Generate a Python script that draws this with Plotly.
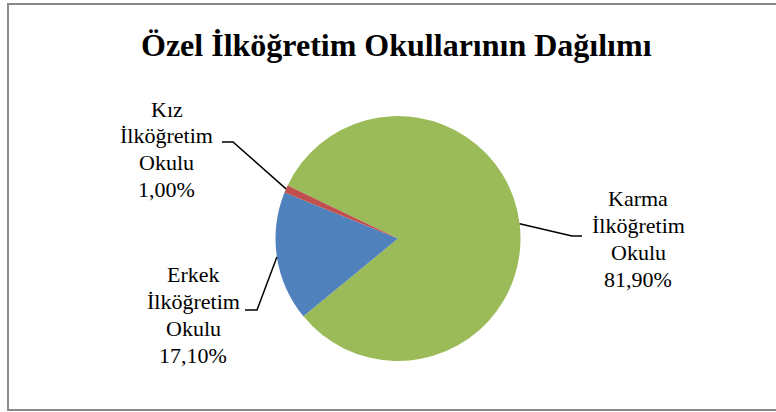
import math
import plotly.graph_objects as go

# ---- data ----
categories = ["Karma İlköğretim Okulu", "Erkek İlköğretim Okulu", "Kız İlköğretim Okulu"]
label_words = [["Karma", "İlköğretim", "Okulu"],
               ["Erkek", "İlköğretim", "Okulu"],
               ["Kız", "İlköğretim", "Okulu"]]
values = [81.9, 17.1, 1.0]
colors = ["#9BBB59", "#4F81BD", "#C0504D"]
title_text = "<b>Özel İlköğretim Okullarının Dağılımı</b>"

# ---- layout geometry (pixels) ----
W, H = 776, 412
cx, cy, r = 398.0, 238.5, 122.5
rotation = -64.3
font_family = "Liberation Serif, Times New Roman, serif"
label_size = 22
line_pitch = 26.8

# label block: centre x and first-line centre y (pixels)
label_pos = [(638.0, 198.7), (193.0, 274.7), (166.5, 109.0)]
elbows = [((572, 236), (582, 236)), ((257, 310), (245, 310)), ((233, 142), (222, 142))]


def px(x):
    return x / W


def py(y):
    return 1 - y / H


fig = go.Figure(go.Pie(
    labels=categories,
    values=values,
    sort=False,
    direction="clockwise",
    rotation=rotation,
    marker=dict(colors=colors, line=dict(width=0)),
    textinfo="none",
    showlegend=False,
    domain=dict(x=[px(cx - r), px(cx + r)], y=[py(cy + r), py(cy - r)]),
))

total = sum(values)
cum = 0.0
shapes = []
annotations = []
for i, v in enumerate(values):
    mid = math.radians(rotation + (cum + v / 2) / total * 360)
    cum += v
    ex, ey = cx + r * math.sin(mid), cy - r * math.cos(mid)
    (bx, by), (tx, ty) = elbows[i]
    path = f"M {px(ex)} {py(ey)} L {px(bx)} {py(by)} L {px(tx)} {py(ty)}"
    shapes.append(dict(type="path", xref="paper", yref="paper", path=path,
                       line=dict(color="black", width=1.5)))
    pct = f"{v:.2f}".replace(".", ",") + "%"
    lines = label_words[i] + [pct]
    lx, ly = label_pos[i]
    for k, txt in enumerate(lines):
        annotations.append(dict(
            x=px(lx), y=py(ly + k * line_pitch), xref="paper", yref="paper",
            text=txt, showarrow=False, align="center",
            xanchor="center", yanchor="middle",
            font=dict(family=font_family, size=label_size, color="black"),
        ))

annotations.append(dict(
    x=px(397.0), y=py(45), xref="paper", yref="paper", text=title_text,
    showarrow=False, xanchor="center", yanchor="middle",
    font=dict(family=font_family, size=32, color="black"),
))

# chart border (open on the right, where it runs past the picture)
border = (f"M {px(W + 20)} {py(4)} L {px(8)} {py(4)} "
          f"L {px(8)} {py(410)} L {px(W + 20)} {py(410)}")
shapes.append(dict(type="path", xref="paper", yref="paper", path=border,
                   line=dict(color="#8a8a8a", width=2)))

fig.update_layout(
    width=W, height=H,
    margin=dict(l=0, r=0, t=0, b=0),
    paper_bgcolor="white", plot_bgcolor="white",
    shapes=shapes, annotations=annotations,
)

fig.write_html(
    "out.html",
    config={"displayModeBar": False},
    post_script="document.body.style.margin='0';document.body.style.overflow='hidden';",
)
